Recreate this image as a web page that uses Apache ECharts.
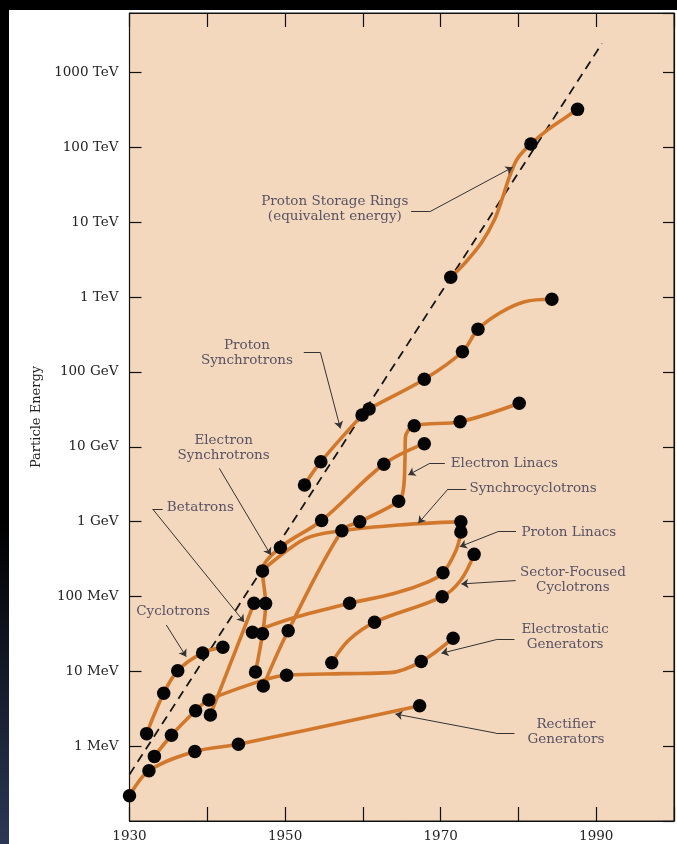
<!DOCTYPE html>
<html>
<head>
<meta charset="utf-8">
<title>Livingston Plot</title>
<script src="https://cdn.jsdelivr.net/npm/echarts@6/dist/echarts.min.js"></script>
<style>
  html, body { margin: 0; padding: 0; background: #000; }
  #frame { position: relative; width: 677px; height: 844px; background: #000; overflow: hidden; }
  #edge { position: absolute; left: 0; top: 0; width: 9px; height: 844px;
          background: linear-gradient(to bottom, #000 0%, #000 62%, #2b3756 100%); }
  #sheet { position: absolute; left: 9px; top: 10px; width: 668px; height: 834px; background: #fff; }
  #chart { position: absolute; left: 0; top: 0; width: 677px; height: 844px; }
</style>
</head>
<body>
<div id="frame"><div id="edge"></div><div id="sheet"></div><div id="chart"></div></div>
<script>
// Energies in MeV, dates in years. The energy axis runs in decades (log10 of MeV).
const yearLabels = [1930, 1950, 1970, 1990];
const energyTickLabels = ['1 MeV', '10 MeV', '100 MeV', '1 GeV', '10 GeV', '100 GeV',
                          '1 TeV', '10 TeV', '100 TeV', '1000 TeV'];

// Machines (dots) for each accelerator family
const rectifierDots = [[1930.0, 0.218], [1932.5, 0.47], [1938.4, 0.85], [1944.0, 1.06], [1967.3, 3.46]];
const electrostaticDots = [[1933.2, 0.73], [1935.4, 1.40], [1938.5, 2.97], [1940.2, 4.14], [1950.2, 8.87],
                           [1967.5, 13.5], [1971.6, 27.7]];
const cyclotronDots = [[1932.2, 1.47], [1934.4, 5.08], [1936.2, 10.2], [1939.4, 17.6], [1942.0, 20.9]];
const betatronDots = [[1940.4, 2.61], [1946.0, 80.9]];
const electronSynchDots = [[1946.2, 9.8], [1947.1, 31.8], [1947.5, 80.5], [1947.1, 219], [1949.4, 451],
                           [1954.7, 1035], [1962.7, 5830], [1967.9, 10990]];
const synchrocyclotronDots = [[1957.3, 755], [1972.6, 998]];
const electronLinacDots = [[1947.2, 6.37], [1950.4, 34.8], [1959.6, 998], [1964.6, 1866], [1966.6, 19100],
                           [1972.5, 21600], [1980.1, 38100]];
const protonLinacDots = [[1945.8, 33.2], [1958.3, 80.9], [1970.3, 207], [1972.6, 726]];
const sectorCyclotronDots = [[1956.0, 13.0], [1961.5, 45.2], [1970.2, 99.4], [1974.3, 365]];
const protonSynchDots = [[1952.5, 3083], [1954.6, 6310], [1959.9, 26500], [1960.8, 31900], [1967.9, 79600],
                         [1972.8, 186000], [1974.8, 371000], [1984.3, 933000]];
const storageRingDots = [[1971.3, 1.84e6], [1981.6, 1.11e8], [1987.6, 3.22e8]];

// Traced course of each family's envelope curve
const rectifierCurve = rectifierDots;
const electrostaticCurve = [[1933.2, 0.73], [1935.4, 1.40], [1938.5, 2.97], [1940.2, 4.14], [1947.3, 7.66],
                            [1950.2, 8.87], [1957.5, 9.3], [1963.5, 9.6], [1967.5, 13.5], [1971.6, 27.7]];
const cyclotronCurve = cyclotronDots;
const betatronCurve = betatronDots;
const electronSynchCurve = electronSynchDots;
const synchrocyclotronCurve = [[1947.1, 219], [1948.2, 280], [1952.7, 598], [1957.3, 755], [1964.6, 900],
                               [1972.6, 998]];
const electronLinacCurve = [[1947.2, 6.37], [1950.4, 34.8], [1957.3, 755], [1959.6, 998], [1964.6, 1866],
                            [1965.2, 2640], [1965.42, 7080], [1965.46, 13090], [1966.6, 19100],
                            [1972.5, 21600], [1980.1, 38100]];
const protonLinacCurve = [[1945.8, 33.2], [1950.9, 51.1], [1958.3, 80.9], [1964.1, 110], [1968.4, 157],
                          [1970.3, 207], [1972.0, 418], [1972.6, 726]];
const sectorCyclotronCurve = [[1956.0, 13.0], [1958.2, 26.2], [1961.5, 45.2], [1970.2, 99.4], [1972.6, 166],
                              [1974.3, 365]];
const protonSynchCurve = [[1952.5, 3083], [1954.6, 6310], [1959.9, 26500], [1960.8, 31900], [1967.9, 79600],
                          [1972.8, 186000], [1974.8, 371000], [1977.7, 622000], [1980.8, 867000],
                          [1984.3, 933000]];
const storageRingCurve = [[1971.3, 1.84e6], [1973.1, 2.83e6], [1975.2, 5.22e6], [1976.9, 1.07e7],
                          [1978.0, 2.19e7], [1978.85, 4.06e7], [1979.9, 7.14e7], [1981.6, 1.11e8],
                          [1983.75, 1.71e8], [1985.9, 2.44e8], [1987.6, 3.22e8]];

// Exponential trend (dashed)
const trendLine = [[1930, 0.419], [1990.75, 2.45e9]];

// Family names placed on the plot, with their pointer lines
const familyNotes = [
  { text: 'Proton Storage Rings\n(equivalent energy)', at: [1956.4, 1.48e7], align: 'center' },
  { text: 'Proton\nSynchrotrons', at: [1945.1, 1.79e5], align: 'center' },
  { text: 'Electron\nSynchrotrons', at: [1942.1, 9480], align: 'center' },
  { text: 'Betatrons', at: [1934.8, 1520], align: 'left' },
  { text: 'Cyclotrons', at: [1935.6, 62], align: 'center' },
  { text: 'Electron Linacs', at: [1971.3, 5890], align: 'left' },
  { text: 'Synchrocyclotrons', at: [1973.7, 2730], align: 'left' },
  { text: 'Proton Linacs', at: [1980.4, 726], align: 'left' },
  { text: 'Sector-Focused\nCyclotrons', at: [1987.0, 167], align: 'center' },
  { text: 'Electrostatic\nGenerators', at: [1986.0, 28.3], align: 'center' },
  { text: 'Rectifier\nGenerators', at: [1986.1, 1.56], align: 'center' }
];
const pointerStubs = [
  [[1966.2, 1.38e7], [1968.6, 1.38e7]],
  [[1952.4, 1.81e5], [1954.55, 1.81e5]],
  [[1934.26, 1472], [1932.98, 1472]],
  [[1970.54, 6010], [1968.62, 6010]],
  [[1973.3, 2730], [1970.96, 2730]],
  [[1979.69, 733], [1977.35, 733]],
  [[1979.49, 26.8], [1977.35, 26.8]],
  [[1979.49, 1.49], [1977.14, 1.49]]
];
const pointerArrows = [
  [[1968.6, 1.38e7], [1979.26, 5.42e7]],
  [[1954.55, 1.81e5], [1957.11, 1.76e4]],
  [[1941.55, 5150], [1948.16, 358]],
  [[1932.98, 1472], [1944.74, 45.6]],
  [[1934.73, 41.6], [1937.29, 15.7]],
  [[1968.62, 6010], [1965.84, 4200]],
  [[1970.96, 2730], [1967.12, 948]],
  [[1977.35, 733], [1972.46, 462]],
  [[1979.65, 163], [1972.66, 147]],
  [[1977.35, 26.8], [1970.10, 17.4]],
  [[1977.14, 1.49], [1964.18, 2.69]]
];

const SERIF = 'DejaVu Serif';
const ORANGE = '#d2782c';
const INK = '#232323';
const NOTE_INK = '#2f2f4c';

// energy (MeV) -> decade position on the axis
const dec = pts => pts.map(([t, e]) => [t, Math.log10(e)]);

const curves = [rectifierCurve, electrostaticCurve, cyclotronCurve, betatronCurve, electronSynchCurve,
                synchrocyclotronCurve, electronLinacCurve, protonLinacCurve, sectorCyclotronCurve,
                protonSynchCurve, storageRingCurve];
const allDots = [].concat(rectifierDots, electrostaticDots, cyclotronDots, betatronDots, electronSynchDots,
                          synchrocyclotronDots, electronLinacDots, protonLinacDots, sectorCyclotronDots,
                          protonSynchDots, storageRingDots);

function energyLabel(v) {
  const e = Math.round(v);
  if (Math.abs(v - e) > 1e-6) return '';
  return energyTickLabels[e] || '';
}

const axisLineStyle = { color: '#111', width: 1.2 };
const decadeMin = -1;                  // 0.1 MeV at the floor
const decadeMax = Math.log10(6.24e9);  // top of the frame

const chart = echarts.init(document.getElementById('chart'), null, { renderer: 'canvas' });
chart.setOption({
  animation: false,
  backgroundColor: 'transparent',
  grid: { left: 129.5, right: 1, top: 13, bottom: 23, show: true,
          backgroundColor: '#f4d8be', borderColor: '#111', borderWidth: 1 },
  xAxis: [
    { type: 'value', min: 1930, max: 2000, interval: 10, position: 'bottom',
      axisLine: { show: true, onZero: false, lineStyle: axisLineStyle },
      axisTick: { show: true, inside: true, length: 14, lineStyle: axisLineStyle },
      axisLabel: { formatter: v => (yearLabels.includes(v) ? String(v) : ''), fontFamily: SERIF,
                   fontSize: 13.5, color: INK, margin: 8 },
      splitLine: { show: false } },
    { type: 'value', min: 1930, max: 2000, interval: 10, position: 'top',
      axisLine: { show: true, onZero: false, lineStyle: axisLineStyle },
      axisTick: { show: true, inside: true, length: 14, lineStyle: axisLineStyle },
      axisLabel: { show: false }, splitLine: { show: false } }
  ],
  yAxis: [
    { type: 'value', min: decadeMin, max: decadeMax, interval: 1, position: 'left',
      name: 'Particle Energy', nameLocation: 'middle', nameGap: 86,
      nameTextStyle: { fontFamily: SERIF, fontSize: 13, color: INK },
      axisLine: { show: true, onZero: false, lineStyle: axisLineStyle },
      axisTick: { show: true, inside: true, length: 12, lineStyle: axisLineStyle },
      axisLabel: { formatter: energyLabel, fontFamily: SERIF, fontSize: 13.5, color: INK, margin: 11,
                   showMaxLabel: false, showMinLabel: false },
      splitLine: { show: false } },
    { type: 'value', min: decadeMin, max: decadeMax, interval: 1, position: 'right',
      axisLine: { show: true, onZero: false, lineStyle: axisLineStyle },
      axisTick: { show: true, inside: true, length: 11, lineStyle: axisLineStyle },
      axisLabel: { show: false }, splitLine: { show: false } }
  ],
  series: [
    { type: 'line', data: dec(trendLine), symbol: 'none', silent: true, z: 2,
      lineStyle: { color: '#161616', width: 1.8, type: [9, 6] } },
    ...curves.map(c => ({
      type: 'line', data: dec(c), symbol: 'none', smooth: 0.35, silent: true, z: 3,
      lineStyle: { color: ORANGE, width: 3.6, cap: 'round', join: 'round' }
    })),
    { type: 'scatter', data: dec(allDots), symbol: 'circle', symbolSize: 13.5, silent: true, z: 5,
      itemStyle: { color: '#050505', opacity: 1 } },
    { type: 'lines', coordinateSystem: 'cartesian2d', silent: true, z: 4,
      data: pointerStubs.map(s => ({ coords: dec(s) })), symbol: 'none',
      lineStyle: { color: '#333', width: 1, opacity: 1 } },
    { type: 'lines', coordinateSystem: 'cartesian2d', silent: true, z: 4,
      data: pointerArrows.map(s => ({ coords: dec(s) })), symbol: ['none', 'arrow'], symbolSize: [0, 7],
      lineStyle: { color: '#333', width: 1, opacity: 1 } },
    { type: 'scatter', symbolSize: 0, silent: true, z: 6,
      data: familyNotes.map(n => ({ name: n.text, value: [n.at[0], Math.log10(n.at[1])],
                                    label: { align: n.align } })),
      label: { show: true, position: 'inside', formatter: p => p.name, fontFamily: SERIF, fontSize: 13.5,
               color: NOTE_INK, lineHeight: 15, verticalAlign: 'middle' } }
  ]
});
</script>
</body>
</html>
